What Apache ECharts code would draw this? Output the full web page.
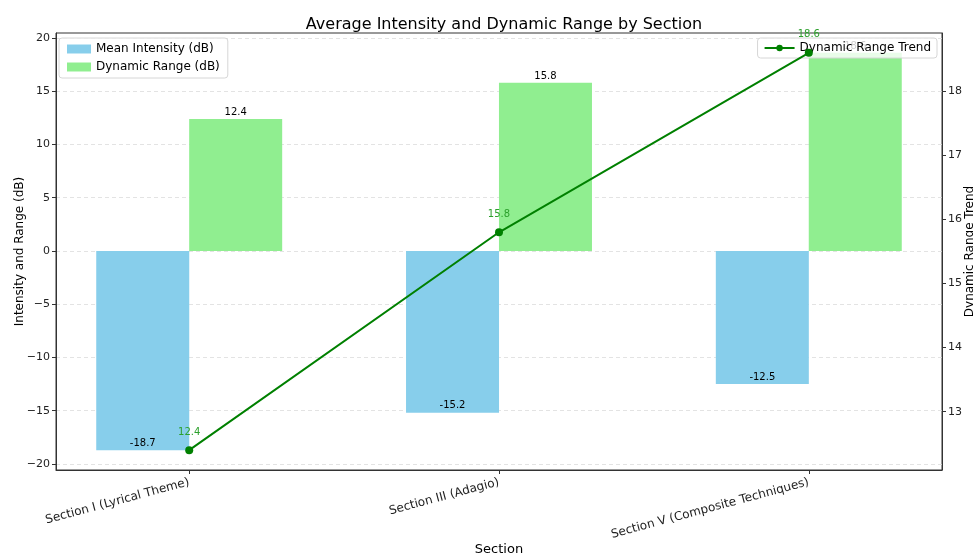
<!DOCTYPE html>
<html>
<head>
<meta charset="utf-8">
<script src="https://cdn.jsdelivr.net/npm/echarts@6/dist/echarts.min.js"></script>
<style>
  html, body { margin: 0; padding: 0; background: #fff; }
  #chart { width: 973px; height: 554px; }
</style>
</head>
<body>
<div id="chart"></div>
<script>
// data
const sections = ['Section I (Lyrical Theme)', 'Section III (Adagio)', 'Section V (Composite Techniques)'];
const meanIntensity = [-18.7, -15.2, -12.5];
const dynamicRange = [12.4, 15.8, 18.6];
const trendValues = [12.4, 15.8, 18.6];
const leftTicks = [-20, -15, -10, -5, 0, 5, 10, 15, 20];
const rightTicks = [13, 14, 15, 16, 17, 18];

const font = 'DejaVu Sans';
const fmtMinus = v => String(v).replace('-', '\u2212');

const chart = echarts.init(document.getElementById('chart'));

chart.setOption({
  animation: false,
  textStyle: { fontFamily: font },
  title: {
    text: 'Average Intensity and Dynamic Range by Section',
    left: 499,
    top: 12,
    textAlign: 'center',
    textStyle: { fontFamily: font, fontSize: 16, fontWeight: 'normal', color: '#000' }
  },
  legend: [
    {
      data: [
        { name: 'Mean Intensity (dB)', icon: 'rect' },
        { name: 'Dynamic Range (dB)', icon: 'rect' }
      ],
      orient: 'vertical',
      left: 59,
      top: 38,
      itemWidth: 24,
      itemHeight: 9,
      itemGap: 6,
      padding: [5, 8, 5, 8],
      backgroundColor: 'rgba(255,255,255,0.8)',
      borderColor: '#d6d6d6',
      borderWidth: 1,
      borderRadius: 3,
      textStyle: { fontFamily: font, fontSize: 12, color: '#000' }
    },
    {
      data: ['Dynamic Range Trend'],
      right: 36,
      top: 38,
      itemWidth: 30,
      itemHeight: 8,
      padding: [4, 6, 4, 6],
      backgroundColor: 'rgba(255,255,255,0.8)',
      borderColor: '#d6d6d6',
      borderWidth: 1,
      borderRadius: 3,
      textStyle: { fontFamily: font, fontSize: 12, color: '#000' }
    }
  ],
  grid: {
    left: 56, right: 31, top: 33, bottom: 84,
    outerBoundsMode: 'none',
    containLabel: false,
    show: true, borderColor: '#333', borderWidth: 1, backgroundColor: 'transparent'
  },
  xAxis: {
    type: 'value',
    min: -0.43,
    max: 2.43,
    name: 'Section',
    nameLocation: 'middle',
    nameGap: 73,
    nameMoveOverlap: false,
    nameTextStyle: { fontFamily: font, fontSize: 13, color: '#000' },
    axisLine: { show: true, onZero: false, lineStyle: { color: '#333' } },
    axisTick: { show: true, customValues: [0, 1, 2], length: 4, lineStyle: { color: '#333' } },
    axisLabel: {
      customValues: [0, 1, 2],
      formatter: v => sections[Math.round(v)],
      rotate: 15,
      margin: 12,
      fontFamily: font,
      fontSize: 12,
      color: '#222'
    },
    splitLine: { show: false }
  },
  yAxis: [
    {
      type: 'value',
      min: -20.565,
      max: 20.465,
      name: 'Intensity and Range (dB)',
      nameLocation: 'middle',
      nameGap: 30,
      nameMoveOverlap: false,
      nameTextStyle: { fontFamily: font, fontSize: 12, color: '#000' },
      axisLine: { show: true, onZero: false, lineStyle: { color: '#333' } },
      axisTick: { show: true, customValues: leftTicks, length: 4, lineStyle: { color: '#333' } },
      axisLabel: { customValues: leftTicks, formatter: fmtMinus, fontFamily: font, fontSize: 11, color: '#222', margin: 6 },
      splitLine: { show: true, lineStyle: { color: '#dcdcdc', type: [4, 3], width: 0.8 } }
    },
    {
      type: 'value',
      min: 12.09,
      max: 18.91,
      position: 'right',
      name: 'Dynamic Range Trend',
      nameLocation: 'middle',
      nameRotate: 90,
      nameGap: 22,
      nameMoveOverlap: false,
      nameTextStyle: { fontFamily: font, fontSize: 12, color: '#000' },
      axisLine: { show: true, onZero: false, lineStyle: { color: '#333' } },
      axisTick: { show: true, customValues: rightTicks, length: 4, lineStyle: { color: '#333' } },
      axisLabel: { customValues: rightTicks, fontFamily: font, fontSize: 11, color: '#222', margin: 6 },
      splitLine: { show: false }
    }
  ],
  series: [
    {
      name: 'Mean Intensity (dB)',
      type: 'bar',
      yAxisIndex: 0,
      barWidth: 93,
      barGap: '-100%',
      itemStyle: { color: '#87CEEB' },
      label: {
        show: true,
        position: 'insideBottom',
        distance: 2,
        fontFamily: font,
        fontSize: 10,
        color: '#000'
      },
      data: meanIntensity.map((v, i) => [i - 0.15, v])
    },
    {
      name: 'Dynamic Range (dB)',
      type: 'bar',
      yAxisIndex: 0,
      barWidth: 93,
      barGap: '-100%',
      itemStyle: { color: '#90EE90' },
      label: {
        show: true,
        position: 'top',
        distance: 1,
        fontFamily: font,
        fontSize: 10,
        color: '#000'
      },
      data: dynamicRange.map((v, i) => [i + 0.15, v])
    },
    {
      name: 'Dynamic Range Trend',
      type: 'line',
      yAxisIndex: 1,
      symbol: 'circle',
      symbolSize: 8,
      lineStyle: { color: '#008000', width: 2 },
      itemStyle: { color: '#008000' },
      label: {
        show: true,
        position: 'top',
        distance: 9,
        fontFamily: font,
        fontSize: 10,
        color: '#2ca02c'
      },
      z: 5,
      data: trendValues.map((v, i) => [i, v])
    }
  ]
});
</script>
</body>
</html>
